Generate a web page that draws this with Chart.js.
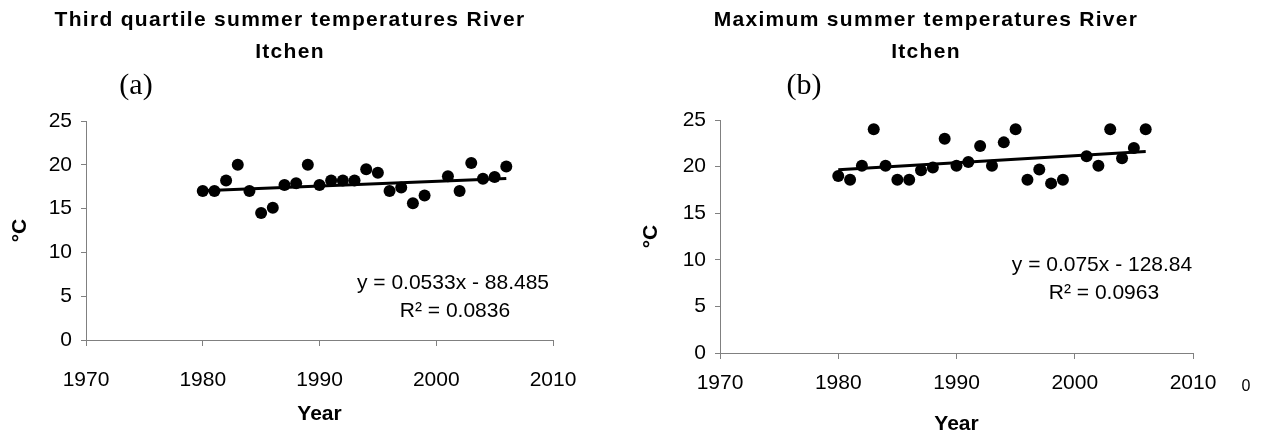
<!DOCTYPE html>
<html>
<head>
<meta charset="utf-8">
<script src="https://cdn.jsdelivr.net/npm/chart.js@4.4.1/dist/chart.umd.min.js"></script>
<style>
  body { margin: 0; background: #fff; }
  .panel { position: absolute; top: 0; height: 437px; }
  #panelA { left: 0; width: 631px; }
  #panelB { left: 631px; width: 632px; }
</style>
</head>
<body>
<div class="panel" id="panelA"><canvas id="chartA"></canvas></div>
<div class="panel" id="panelB"><canvas id="chartB"></canvas></div>
<script>
// years with a reading (no 2000 in either series)
const years = [1980, 1981, 1982, 1983, 1984, 1985, 1986, 1987, 1988, 1989,
  1990, 1991, 1992, 1993, 1994, 1995, 1996, 1997, 1998, 1999,
  2001, 2002, 2003, 2004, 2005, 2006];

const thirdQuartile = [17.0, 17.0, 18.2, 20.0, 17.0, 14.5, 15.1, 17.7, 17.9, 20.0,
  17.7, 18.2, 18.2, 18.2, 19.5, 19.1, 17.0, 17.4, 15.6, 16.5,
  18.7, 17.0, 20.2, 18.4, 18.6, 19.8];

const maximum = [19.0, 18.6, 20.1, 24.0, 20.1, 18.6, 18.6, 19.6, 19.9, 23.0,
  20.1, 20.5, 22.2, 20.1, 22.6, 24.0, 18.6, 19.7, 18.2, 18.6,
  21.1, 20.1, 24.0, 20.9, 22.0, 24.0];

// trend lines as printed on the charts
const slopes = [0.0533, 0.075];
const intercepts = [-88.485, -128.84];
const equations = ["y = 0.0533x - 88.485", "y = 0.075x - 128.84"];
const rSquared = ["R\u00b2 = 0.0836", "R\u00b2 = 0.0963"];

const titles = ["Third quartile summer temperatures River", "Maximum summer temperatures River"];
const xTicks = [1970, 1980, 1990, 2000, 2010];
const yTicks = [0, 5, 10, 15, 20, 25];

const sans = "'Liberation Sans', Arial, sans-serif";
const serif = "'Liberation Serif', 'Times New Roman', serif";

// draws titles, panel letters and trend equations
const textLayer = {
  id: "textLayer",
  afterDraw(chart, args, opts) {
    const ctx = chart.ctx;
    ctx.save();
    ctx.fillStyle = "#000";
    ctx.textAlign = "center";
    ctx.textBaseline = "middle";
    opts.items.forEach((it) => {
      ctx.font = it.font;
      ctx.letterSpacing = (it.spacing || 0) + "px";
      ctx.fillText(it.text, it.x, it.y);
    });
    ctx.restore();
  },
};

const pintar = (canvasId, values, idx, box) => {
  const first = years[0];
  const last = years[years.length - 1];
  const points = years.map((y, i) => ({ x: y, y: values[i] }));
  const trend = [
    { x: first, y: slopes[idx] * first + intercepts[idx] },
    { x: last, y: slopes[idx] * last + intercepts[idx] },
  ];

  new Chart(document.getElementById(canvasId), {
    type: "scatter",
    data: {
      datasets: [
        {
          data: trend,
          type: "line",
          borderColor: "#000",
          borderWidth: 3,
          pointRadius: 0,
          order: 0,
        },
        {
          data: points,
          backgroundColor: "#000",
          borderWidth: 0,
          pointRadius: 6,
          order: 1,
        },
      ],
    },
    options: {
      responsive: true,
      maintainAspectRatio: false,
      animation: false,
      layout: { padding: { top: box.top, right: box.right, left: 0, bottom: 0 } },
      plugins: {
        legend: { display: false },
        tooltip: { enabled: false },
        title: { display: false },
        textLayer: {
          items: [
            { text: titles[idx], x: box.titleX, y: 20, font: "bold 21px " + sans, spacing: 1.3 },
            { text: "Itchen", x: box.titleX, y: 52, font: "bold 21px " + sans, spacing: 1.3 },
            { text: box.letter, x: box.letterX, y: 86, font: "30px " + serif },
            { text: equations[idx], x: box.eqX, y: box.eqY, font: "21px " + sans },
            { text: rSquared[idx], x: box.eqX + 2, y: box.eqY + 28, font: "21px " + sans },
          ].concat(box.extra || []),
        },
      },
      scales: {
        x: {
          type: "linear",
          min: xTicks[0],
          max: xTicks[xTicks.length - 1],
          afterBuildTicks: (s) => { s.ticks = xTicks.map((v) => ({ value: v })); },
          afterFit: (s) => { s.height = box.xHeight; },
          ticks: {
            color: "#000",
            font: { family: sans, size: 21 },
            padding: box.xPad,
            callback: (v) => String(v),
          },
          grid: { drawOnChartArea: false, tickLength: 6, tickColor: "#808080" },
          border: { color: "#808080", width: 1 },
          title: {
            display: true,
            text: "Year",
            color: "#000",
            font: { family: sans, size: 21, weight: "bold" },
            padding: { top: 0, bottom: box.yearPad },
          },
        },
        y: {
          min: yTicks[0],
          max: yTicks[yTicks.length - 1],
          afterBuildTicks: (s) => { s.ticks = yTicks.map((v) => ({ value: v })); },
          afterFit: (s) => { s.width = box.yWidth; },
          ticks: {
            color: "#000",
            font: { family: sans, size: 21 },
            padding: 9,
            callback: (v) => String(v),
          },
          grid: { drawOnChartArea: false, tickLength: 5, tickColor: "#808080" },
          border: { color: "#808080", width: 1 },
          title: {
            display: true,
            text: "\u00b0C",
            color: "#000",
            font: { family: sans, size: 21, weight: "bold" },
            padding: { top: 8, bottom: 0 },
          },
        },
      },
    },
    plugins: [textLayer],
  });
};

pintar("chartA", thirdQuartile, 0, {
  top: 121, right: 78, yWidth: 86, xHeight: 97, xPad: 22, yearPad: 10,
  titleX: 290, letter: "(a)", letterX: 136, eqX: 453, eqY: 283,
});

pintar("chartB", maximum, 1, {
  top: 120, right: 70, yWidth: 89, xHeight: 84, xPad: 12, yearPad: 0,
  titleX: 295, letter: "(b)", letterX: 173, eqX: 471, eqY: 265,
  extra: [{ text: "0", x: 615, y: 387, font: "16px " + sans }],
});
</script>
</body>
</html>
